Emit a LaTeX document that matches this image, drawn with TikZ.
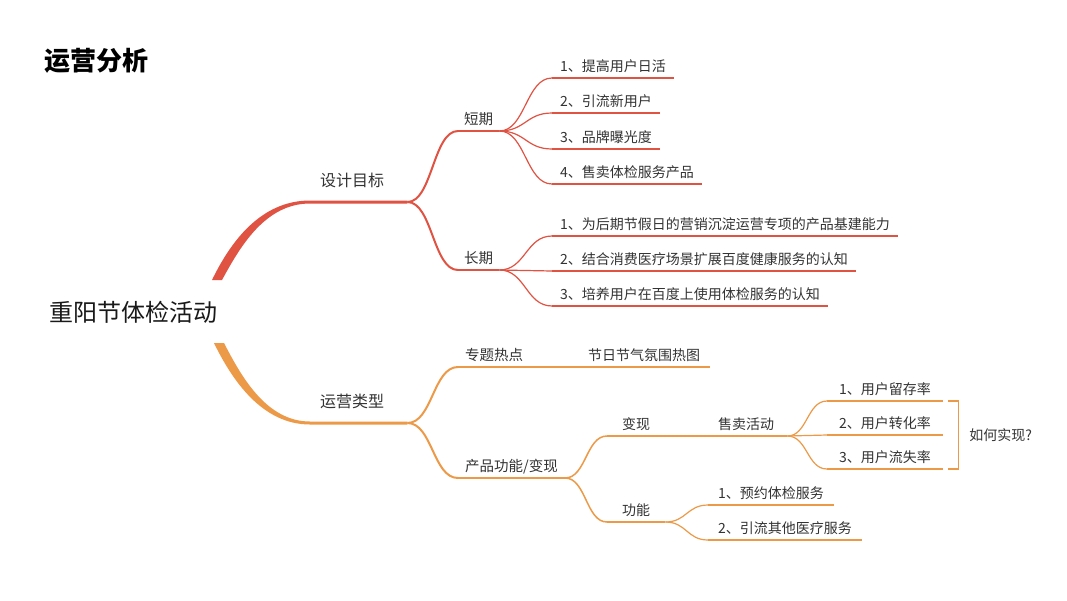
\documentclass[tikz,border=0pt]{standalone}
\usepackage{fontspec}
\setmainfont{Noto Sans CJK SC}
\usetikzlibrary{calc}
\definecolor{cred}{HTML}{E05242}
\definecolor{corg}{HTML}{EC9A48}
\definecolor{ctxt}{HTML}{333333}
\begin{document}
\begin{tikzpicture}[x=1pt,y=-1pt,
  lbl/.style={anchor=south west, inner ysep=6.5pt, text height=0.86em, text depth=0pt, text=ctxt, font=\fontsize{14}{16}\selectfont},
  lvone/.style={lbl, inner ysep=15pt, align=left, font=\fontsize{16}{18}\selectfont},
  lvtwo/.style={lbl, font=\fontsize{14.5}{17}\selectfont},
  conn/.style={to path={.. controls +(#1,0) and +(-#1,0) .. (\tikztotarget)}},
  thk/.style={line width=2pt},
  mid/.style={line width=1.5pt},
  thn/.style={line width=1.2pt}
]
\fill[white] (0,0) rectangle (1067,600);
\useasboundingbox (0,0) rectangle (1067,600);

% title and root
\node[anchor=west, inner sep=0, text=black, font=\bfseries\fontsize{26}{30}\selectfont] (title) at (44,61) {运营分析};
\node[anchor=west, inner sep=0, text=black!90, font=\fontsize{24}{28}\selectfont] (root) at (49,312.5) {重阳节体检活动};
\coordinate (rt) at (217,280);
\coordinate (rb) at (219,343);

% level 1
\node[lvone, text width=72pt, inner xsep=15pt] (goal) at (305,202) {设计目标};
\node[lvone, text width=72pt, inner xsep=15pt] (type) at (305,423) {运营类型};

% thick main branches
\fill[cred] ($(rt)+(-5,0)$) .. controls (230,243) and (260,200.5) .. ($(goal.south west)+(5,-1.5)$) -- ($(goal.south east)+(0,-1.5)$) -- ($(goal.south east)+(0,1.5)$) -- ($(goal.south west)+(5,1.5)$) .. controls (265,203.5) and (240,247) .. ($(rt)+(5,0)$) -- cycle;
\fill[corg] ($(rb)+(-5,0)$) .. controls (232,380) and (262,424.5) .. ($(type.south west)+(5,1.5)$) -- ($(type.south east)+(0,1.5)$) -- ($(type.south east)+(0,-1.5)$) -- ($(type.south west)+(5,-1.5)$) .. controls (267,421.5) and (242,378) .. ($(rb)+(5,0)$) -- cycle;

% level 2
\node[lvtwo, inner xsep=6pt] (short) at (458,131) {短期};
\node[lvtwo, inner xsep=6pt] (long) at (458,270) {长期};
\node[lvtwo, inner xsep=7pt] (topic) at (458,367) {专题热点};
\node[lvtwo, inner xsep=7pt] (prod) at (458,478) {产品功能/变现};

% short leaves
\node[lbl, inner xsep=8pt] (s1) at (552,78) {1、提高用户日活};
\node[lbl, inner xsep=8pt] (s2) at (552,113) {2、引流新用户};
\node[lbl, inner xsep=8pt] (s3) at (552,149) {3、品牌曝光度};
\node[lbl, inner xsep=8pt] (s4) at (552,184) {4、售卖体检服务产品};
% long leaves
\node[lbl, inner xsep=8pt] (ln1) at (552,236) {1、为后期节假日的营销沉淀运营专项的产品基建能力};
\node[lbl, inner xsep=8pt] (ln2) at (552,271) {2、结合消费医疗场景扩展百度健康服务的认知};
\node[lbl, inner xsep=8pt] (ln3) at (552,306) {3、培养用户在百度上使用体检服务的认知};

% orange sub nodes
\node[lbl, inner xsep=10pt] (heat) at (578,367) {节日节气氛围热图};
\node[lbl, inner xsep=15pt] (bian) at (607,436) {变现};
\node[lbl, inner xsep=15pt] (gong) at (607,522) {功能};
\node[lbl, inner xsep=13pt] (sale) at (705,436) {售卖活动};
\node[lbl, inner xsep=12pt] (r1) at (827,401) {1、用户留存率};
\node[lbl, inner xsep=12pt] (r2) at (827,435) {2、用户转化率};
\node[lbl, inner xsep=12pt] (r3) at (827,469) {3、用户流失率};
\node[lbl, inner xsep=10pt] (g1) at (708,505) {1、预约体检服务};
\node[lbl, inner xsep=10pt] (g2) at (708,540) {2、引流其他医疗服务};
\node[anchor=west, inner sep=0, text=ctxt, font=\fontsize{14}{16}\selectfont] (how) at ($(r2.south east)+(26,0)$) {如何实现?};

% red connectors
\begin{scope}[cred]
\draw[thk] (goal.south east) to[conn=25] (short.south west);
\draw[thk] (goal.south east) to[conn=25] (long.south west);
\draw[thk] (short.south west) -- (short.south east);
\draw[thk] (long.south west) -- (long.south east);
\foreach \n in {s1,s2,s3,s4}{
  \draw[thn] (short.south east) to[conn=26] (\n.south west);
  \draw[thn] (\n.south west) -- (\n.south east);
}
\foreach \n in {ln1,ln2,ln3}{
  \draw[thn] (long.south east) to[conn=26] (\n.south west);
  \draw[thn] (\n.south west) -- (\n.south east);
}
\end{scope}

% orange connectors
\begin{scope}[corg]
\draw[thk] (type.south east) to[conn=25] (topic.south west);
\draw[thk] (type.south east) to[conn=25] (prod.south west);
\draw[line width=2.2pt] (topic.south west) -- (topic.south east);
\draw[thk] (prod.south west) -- (prod.south east);
\draw[thn] (topic.south east) -- (heat.south west);
\draw[thn] (heat.south west) -- (heat.south east);
\draw[mid] (prod.south east) to[conn=21] (bian.south west);
\draw[mid] (prod.south east) to[conn=21] (gong.south west);
\draw[mid] (bian.south west) -- (bian.south east);
\draw[mid] (gong.south west) -- (gong.south east);
\draw[thn] (bian.south east) -- (sale.south west);
\draw[thn] (sale.south west) -- (sale.south east);
\foreach \n in {r1,r2,r3}{
  \draw[thn] (sale.south east) to[conn=20] (\n.south west);
  \draw[thn] (\n.south west) -- (\n.south east);
}
\foreach \n in {g1,g2}{
  \draw[thn] (gong.south east) to[conn=21] (\n.south west);
  \draw[thn] (\n.south west) -- (\n.south east);
}
\draw[thn] ($(r1.south east)+(5,0)$) -- ++(10,0) -- ($(r3.south east)+(15,0)$) -- ++(-10,0);
\end{scope}
\end{tikzpicture}
\end{document}
